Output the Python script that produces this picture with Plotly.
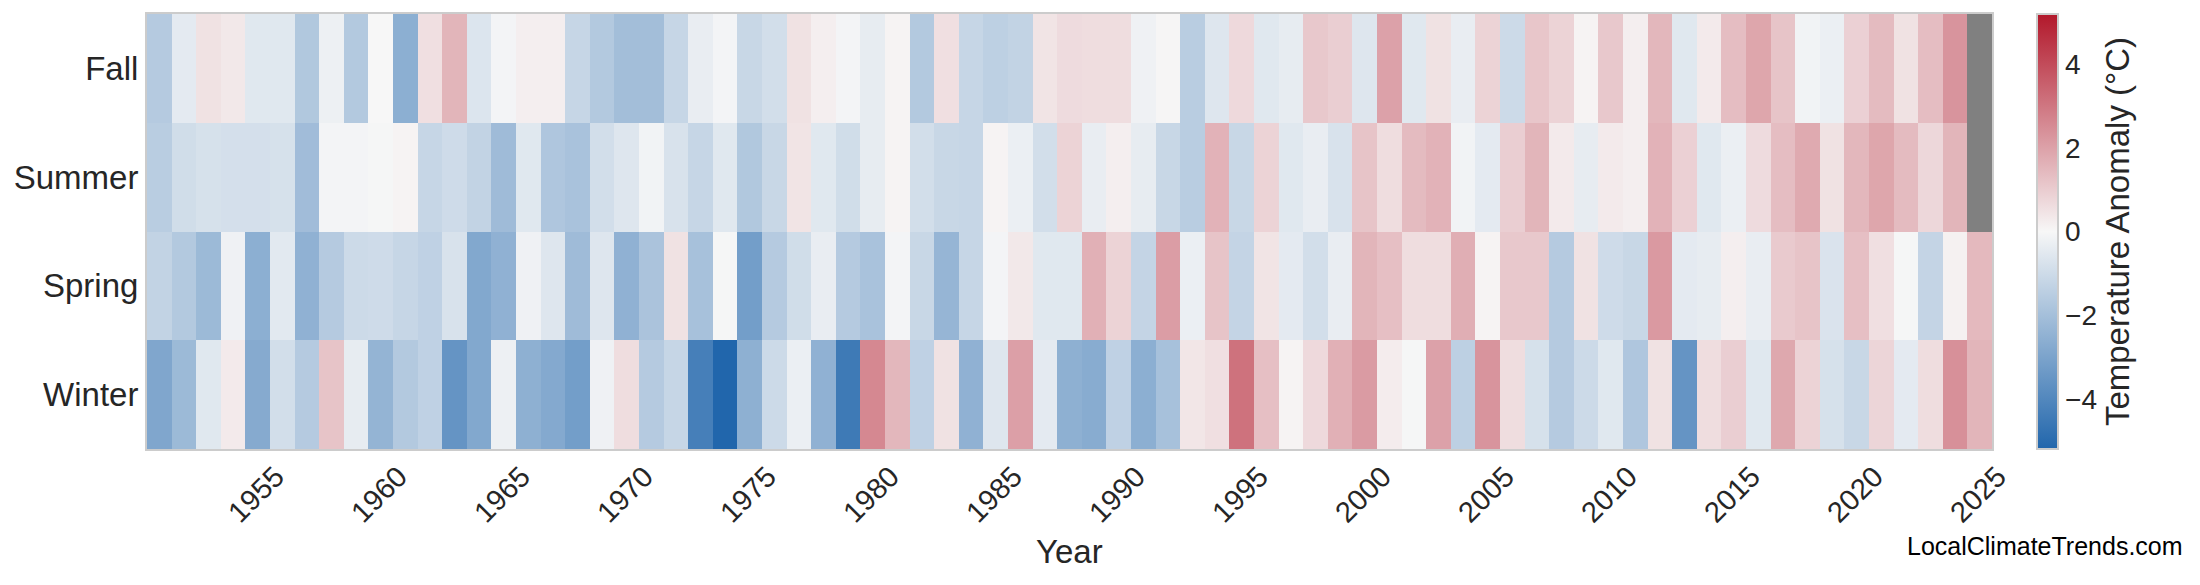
import plotly.graph_objects as go

years = list(range(1951, 2026))
seasons = ["Winter", "Spring", "Summer", "Fall"]

fall = [-1.6, -0.45, 0.5, 0.35, -0.55, -0.55, -1.7, -0.25, -1.65, 0.0,
        -2.6, 0.55, 1.55, -0.65, -0.1, 0.2, 0.2, -1.2, -1.65, -2.05,
        -2.05, -1.2, -0.35, -0.1, -1.15, -0.9, 0.5, 0.2, -0.1, -0.4,
        0.1, -1.65, 0.55, -1.2, -1.4, -1.3, 0.45, 0.65, 0.6, 0.6,
        -0.2, 0.05, -1.5, -0.6, 0.7, -0.55, -0.4, 1.1, 0.95, -0.6,
        2.0, -0.55, 0.5, -0.35, 0.85, -1.05, 1.15, 0.85, 0.1, 1.1,
        0.2, 1.5, -0.55, 0.3, 1.35, 1.9, 1.2, -0.15, -0.3, 0.9,
        1.4, 0.5, 1.35, 2.3, None]

summer = [-1.5, -0.95, -0.8, -0.85, -0.85, -0.8, -2.1, -0.1, -0.1, -0.05,
          0.1, -1.2, -1.0, -1.3, -2.15, -0.55, -1.75, -1.9, -0.9, -0.6,
          -0.15, -0.75, -1.2, -0.55, -1.7, -1.15, 0.45, -0.55, -0.95, -0.4,
          0.1, -0.9, -1.15, -1.2, 0.1, -0.3, -0.9, 0.85, -0.35, 0.2,
          -0.4, -1.15, -1.5, 1.6, -1.15, 0.85, -0.55, -0.35, -0.75, 1.2,
          0.6, 1.4, 1.6, -0.15, -0.45, 0.95, 1.55, 0.3, -0.4, 0.3,
          0.2, 1.6, 0.9, -0.55, -0.3, 0.65, 1.35, 1.8, 0.5, 1.5,
          1.9, 1.4, 0.75, 1.55, None]

spring = [-1.3, -1.65, -2.2, -0.2, -2.6, -0.5, -2.5, -1.6, -1.05, -1.0,
          -1.2, -1.35, -0.75, -2.85, -2.5, -0.2, -0.6, -2.15, -0.6, -2.5,
          -1.85, 0.5, -1.95, -0.05, -3.2, -1.6, -0.95, -0.35, -1.6, -1.9,
          -0.1, -1.15, -2.35, -1.2, -0.1, 0.35, -0.55, -0.55, 1.65, 0.85,
          -1.25, 2.1, -0.3, 1.2, -1.25, 0.45, -0.45, -0.9, -0.35, 1.55,
          1.3, 0.6, 0.6, 1.7, 0.1, 1.1, 1.1, -1.6, 0.5, -1.0,
          -1.15, 2.2, -0.45, -0.4, 0.2, -0.35, 1.05, 1.2, -0.7, 1.3,
          0.55, -0.05, -1.25, 0.15, 1.45]

winter = [-2.9, -2.2, -0.55, 0.3, -2.75, -0.9, -1.6, 1.2, -0.4, -2.4,
          -1.65, -1.35, -3.55, -2.85, -0.25, -2.55, -2.8, -3.2, -0.2, 0.6,
          -1.6, -1.2, -4.3, -5.2, -2.55, -1.05, -0.3, -2.5, -4.5, 2.6,
          1.5, -1.35, 0.5, -2.5, -0.6, 2.05, -0.45, -2.55, -2.7, -1.35,
          -2.6, -1.95, 0.4, 0.55, 3.1, 1.3, 0.1, 0.7, 1.65, 2.15,
          0.25, -0.05, 2.0, -1.4, 2.3, 0.6, -0.8, -1.6, -1.05, -0.55,
          -1.75, 0.5, -3.55, 0.6, 0.95, -0.55, 1.85, 0.85, -0.8, -1.15,
          0.8, -0.45, 0.6, 2.4, 1.55]

tick_years = list(range(1955, 2026, 5))
cbar_ticks = [-4, -2, 0, 2, 4]

z = [winter, spring, summer, fall]

FONT = "Liberation Sans, Arial, sans-serif"
TXT = "#262626"

fig = go.Figure(go.Heatmap(
    x=years, y=seasons, z=z,
    zmin=-5.2, zmax=5.2,
    colorscale=[[0, "#2166ac"], [0.5, "#f7f7f7"], [1, "#b2182b"]],
    hoverongaps=False,
    colorbar=dict(
        x=1.0244, xanchor="left", xpad=0,
        y=0.5, yanchor="middle", ypad=0,
        len=1, lenmode="fraction",
        thickness=21, thicknessmode="pixels",
        outlinecolor="#cccccc", outlinewidth=2,
        tickvals=cbar_ticks, ticks="",
        tickfont=dict(family=FONT, size=28, color=TXT),
        title=dict(text="Temperature Anomaly (°C)", side="right",
                   font=dict(family=FONT, size=33, color=TXT)),
    ),
))

fig.update_layout(
    width=2200, height=585,
    margin=dict(l=147, r=208, t=14, b=136),
    paper_bgcolor="white",
    plot_bgcolor="#808080",
    font=dict(family=FONT, color=TXT),
    xaxis=dict(
        range=[1950.5, 2025.5],
        tickvals=tick_years, tickangle=-45,
        ticklabelshift=18, ticklabelstandoff=-3,
        tickfont=dict(family=FONT, size=29, color=TXT),
        ticks="", showgrid=False, zeroline=False,
        showline=True, mirror=True, linecolor="#cccccc", linewidth=2,
    ),
    yaxis=dict(
        tickfont=dict(family=FONT, size=33, color=TXT),
        ticks="", showgrid=False, zeroline=False,
        showline=True, mirror=True, linecolor="#cccccc", linewidth=2,
    ),
    annotations=[
        dict(text="Year", xref="paper", yref="paper",
             x=0.5, y=-0.2345, xanchor="center", yanchor="middle",
             showarrow=False, font=dict(family=FONT, size=33, color=TXT)),
        dict(text="LocalClimateTrends.com", xref="paper", yref="paper",
             x=1.1046, y=-0.2225, xanchor="right", yanchor="middle",
             showarrow=False, font=dict(family=FONT, size=25, color="black")),
    ],
)

fig.write_html(
    "out.html",
    config={"displayModeBar": False},
    post_script="document.body.style.margin='0';document.body.style.overflow='hidden';",
)
